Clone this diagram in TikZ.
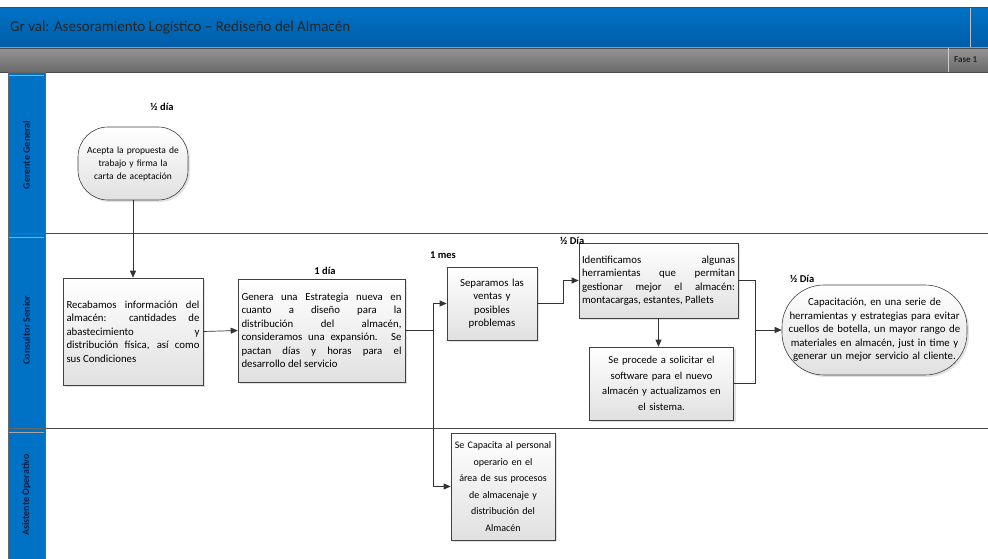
\documentclass[tikz,border=0pt]{standalone}
\usepackage{fontspec}
\setmainfont{Carlito}
\usetikzlibrary{arrows.meta,shadows,calc}
\definecolor{barblue}{RGB}{0,114,198}
\definecolor{barbluedark}{RGB}{0,92,168}
\definecolor{lanetext}{RGB}{8,30,70}
\newcommand{\nohyph}{\hyphenpenalty=10000\exhyphenpenalty=10000\relax}
\newcommand{\boxfont}{\fontsize{10.8}{13.5}\selectfont\nohyph}
\tikzset{
  proc/.style={draw=black!75, line width=0.6pt, top color=white, bottom color=black!12,
    drop shadow={shadow xshift=2pt, shadow yshift=-2pt, fill=black!22},
    inner sep=3pt, font=\boxfont},
  term/.style={proc, rounded corners=30pt},
  conn/.style={draw=black!80, line width=0.7pt},
  arr/.style={conn, -{Triangle[length=7pt,width=6pt]}},
  tlabel/.style={font=\fontsize{10.5}{12}\selectfont\bfseries, inner sep=0pt},
  lanehead/.style={fill=barblue, draw=black!60, line width=0.6pt},
  lanelabel/.style={rotate=90, font=\fontsize{10}{12}\selectfont\bfseries, text=lanetext}
}
\begin{document}
\begin{tikzpicture}[x=1pt,y=-1pt]
\useasboundingbox (0,0) rectangle (988,559);
\fill[white] (0,0) rectangle (988,559);
% title bar
\shade[top color=barblue, bottom color=barbluedark] (0,8) rectangle (988,48);
\draw[black!70, line width=1pt] (0,8) -- (988,8);
\draw[black!25, line width=1pt] (970,8) -- (970,48);
\node[anchor=west, font=\fontsize{15}{17}\selectfont, text=black!85, inner sep=0pt] (title) at (10,28) {Gr val: Asesoramiento Logístico – Rediseño del Almacén};
% grey bar
\shade[top color=black!42, bottom color=black!58] (0,48) rectangle (988,72);
\draw[black!70, line width=0.8pt] (0,48) -- (988,48);
\draw[black!70, line width=0.8pt] (0,72) -- (988,72);
\draw[black!20, line width=1pt] (948,48) -- (948,72);
\node[anchor=west, font=\fontsize{9}{10}\selectfont\bfseries, text=black!85, inner sep=0pt] (fase) at (954,60) {Fase 1};
% lane headers
\draw[lanehead] (8,72) rectangle (45,233);
\draw[lanehead] (8,233) rectangle (45,428);
\draw[lanehead] (8,428) rectangle (45,562);
\draw[black!35, line width=1pt] (9,76) -- (44,76);
\draw[black!35, line width=1pt] (9,237) -- (44,237);
\draw[black!35, line width=1pt] (9,432) -- (44,432);
\node[lanelabel] (l1) at (26.5,155) {Gerente General};
\node[lanelabel] (l2) at (26.5,330) {Consultor Senior};
\node[lanelabel] (l3) at (26.5,495) {Asistente Operativo};
% lane separators
\draw[black!70, line width=0.8pt] (45,233) -- (988,233);
\draw[black!70, line width=0.8pt] (45,428) -- (988,428);

% nodes
\node[term, minimum width=110pt, minimum height=73pt, text width=102pt, align=center, font=\fontsize{9.5}{13}\selectfont] (t1) at (133,163.5)
  {Acepta la propuesta de\\ trabajo y firma la\\ carta de aceptación};
\node[tlabel] (lt1) at (162,107) {½ día};

\node[proc, minimum width=140pt, minimum height=107pt, text width=133pt, align=justify] (b1) at (133,331.5)
  {Recabamos información del\linebreak almacén: cantidades de\linebreak abastecimiento y\linebreak distribución física, así como\linebreak sus Condiciones};

\node[proc, minimum width=167pt, minimum height=103pt, text width=160pt, align=justify] (b2) at (321.5,330.5)
  {Genera una Estrategia nueva en\linebreak cuanto a diseño para la\linebreak distribución del almacén,\linebreak consideramos una expansión. Se\linebreak pactan días y horas para el\linebreak desarrollo del servicio};
\node[tlabel] (lb2) at (325,271) {1 día};

\node[proc, minimum width=90pt, minimum height=73pt, text width=84pt, align=center] (b3) at (492,303.5)
  {Separamos las\\ ventas y\\ posibles\\ problemas};
\node[tlabel, anchor=west] (lb3) at (430,255) {1 mes};

\node[proc, minimum width=159pt, minimum height=75pt, text width=153pt, align=justify] (b4) at (658.5,280.5)
  {Identificamos algunas\linebreak herramientas que permitan\linebreak gestionar mejor el almacén:\linebreak montacargas, estantes, Pallets};
\node[tlabel, anchor=west] (lb4) at (560,241) {½ Día};

\node[proc, minimum width=143pt, minimum height=73pt, text width=138pt, align=center, font=\fontsize{10.6}{15.5}\selectfont] (b6) at (661.5,383.5)
  {Se procede a solicitar el\\ software para el nuevo\\ almacén y actualizamos en\\ el sistema.};

\node[term, rounded corners=42pt, minimum width=185pt, minimum height=90pt, text width=176pt, align=center] (t2) at (874.5,330)
  {Capacitación, en una serie de\\ herramientas y estrategias para evitar\\ cuellos de botella, un mayor rango de\\ materiales en almacén, just in time y\\ generar un mejor servicio al cliente.};
\node[tlabel, anchor=west] (lt2) at (790,279) {½ Día};

\node[proc, minimum width=104pt, minimum height=107pt, text width=100pt, inner sep=2pt, align=center, font=\fontsize{10}{16.5}\selectfont] (b5) at (503,486.5)
  {Se Capacita al personal\\ operario en el\\ área de sus procesos\\ de almacenaje y\\ distribución del\\ Almacén};

% connectors
\coordinate (j1) at (433,330.5);
\coordinate (j2) at (563,303.5);
\coordinate (j3) at (755,330);
\draw[arr] (t1.south) -- (b1.north);
\draw[arr] (b1.east) -- (b2.west);
\draw[conn] (b2.east) -- (j1);
\draw[arr] (j1) |- (b3.west);
\draw[arr] (j1) |- (b5.west);
\draw[conn] (b3.east) -- (j2);
\draw[arr] (j2) |- (b4.west);
\draw[arr] (b4.south) -- (b4.south |- b6.north);
\draw[conn] (b4.east) -| (j3);
\draw[conn] (b6.east) -| (j3);
\draw[arr] (j3) -- (t2.west);
\end{tikzpicture}
\end{document}
